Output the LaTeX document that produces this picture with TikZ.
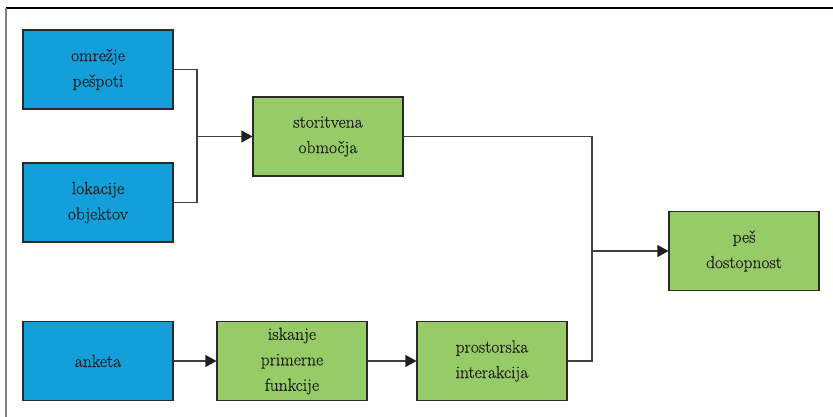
\documentclass[tikz,border=0pt]{standalone}
\usepackage{fontspec}
\newfontfamily\boxfont{Latin Modern Roman}[FakeBold=0.5]
\usetikzlibrary{arrows.meta}
\definecolor{boxblue}{HTML}{159FDA}
\definecolor{boxgreen}{HTML}{96CB68}
\definecolor{txt}{HTML}{231F20}
\definecolor{edge}{HTML}{2A2A2A}
\definecolor{conn}{HTML}{404040}
\tikzset{
  box/.style={draw=edge, line width=1.1pt, minimum width=150pt, minimum height=79pt,
    inner sep=0pt, align=center, text=txt,
    font=\boxfont\fontsize{17.5pt}{25.5pt}\selectfont},
  bluebox/.style={box, fill=boxblue},
  greenbox/.style={box, fill=boxgreen},
  conline/.style={draw=conn, line width=1.2pt},
  conarrow/.style={conline, -{Triangle[length=11pt,width=12pt,color=txt]}}
}
\begin{document}
\begin{tikzpicture}[x=1pt,y=-1pt]
\useasboundingbox (0,0) rectangle (833,417);
% frame
\draw[line width=1.5pt, black] (6,8) -- (833,8);
\draw[line width=1.2pt, gray] (6,8) -- (6,417);
% nodes
\node[bluebox] (a) at (98,69.5) {omrežje\\pešpoti};
\node[bluebox] (b) at (98,202.5) {lokacije\\objektov};
\node[bluebox] (c) at (98,361) {anketa};
\node[greenbox] (s) at (328,136.5) {storitvena\\območja};
\node[greenbox] (i) at (292,361) {iskanje\\primerne\\funkcije};
\node[greenbox] (p) at (492,361) {prostorska\\interakcija};
\node[greenbox] (d) at (744,251) {peš\\dostopnost};
% junctions
\coordinate (j1) at (197,136.5);
\coordinate (j2) at (592,251);
% connectors
\draw[conline] (a.east) -| (j1) |- (b.east);
\draw[conarrow] (j1) -- (s.west);
\draw[conline] (s.east) -| (j2) |- (p.east);
\draw[conarrow] (j2) -- (d.west);
\draw[conarrow] (c.east) -- (i.west);
\draw[conarrow] (i.east) -- (p.west);
\end{tikzpicture}
\end{document}
